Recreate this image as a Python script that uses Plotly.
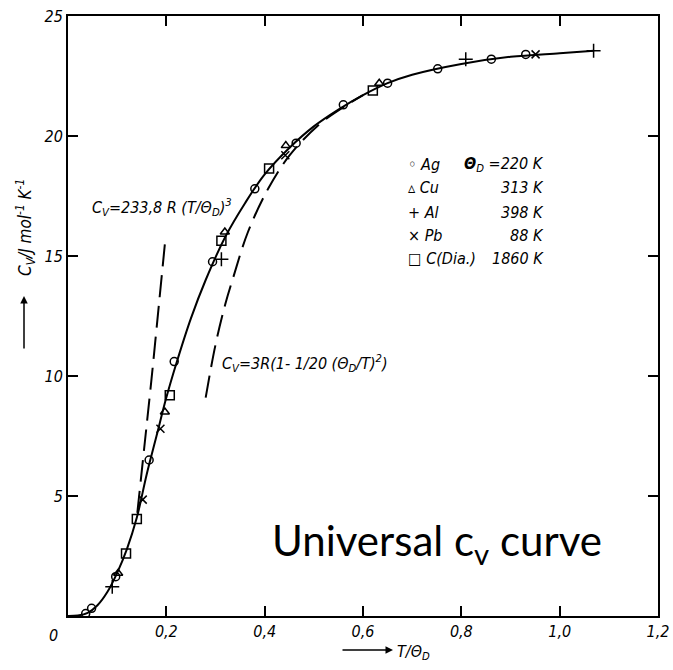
import plotly.graph_objects as go

# ---------------- data ----------------
curve_x = [0, 0.02, 0.04, 0.06, 0.08, 0.10, 0.12, 0.14, 0.16, 0.18, 0.20, 0.22, 0.25, 0.28,
           0.32, 0.36, 0.40, 0.45, 0.50, 0.55, 0.60, 0.65, 0.70, 0.80, 0.90, 1.00, 1.07]
curve_y = [0, 0.02, 0.13, 0.45, 1.0, 1.8, 2.8, 4.1, 5.9, 7.5, 9.1, 10.5, 12.4, 14.0,
           15.8, 17.2, 18.4, 19.5, 20.4, 21.1, 21.7, 22.2, 22.55, 23.0, 23.3, 23.45, 23.55]

t3_x = [0.141, 0.155, 0.170, 0.185, 0.198]
t3_y = [4.3, 7.0, 9.9, 13.0, 15.7]

ht_x = [0.280, 0.300, 0.320, 0.336, 0.366, 0.407, 0.451, 0.512, 0.560, 0.600]
ht_y = [9.1, 11.3, 13.0, 14.1, 16.0, 17.8, 19.2, 20.5, 21.2, 21.7]

ag_x = [0.036, 0.048, 0.097, 0.165, 0.216, 0.294, 0.380, 0.464, 0.560, 0.650, 0.752, 0.861, 0.931]
ag_y = [0.10, 0.32, 1.64, 6.5, 10.6, 14.76, 17.8, 19.7, 21.3, 22.2, 22.8, 23.2, 23.4]

cu_x = [0.102, 0.197, 0.319, 0.443, 0.633]
cu_y = [1.78, 8.5, 16.0, 19.6, 22.2]

al_x = [0.090, 0.312, 0.809, 1.069]
al_y = [1.22, 14.86, 23.2, 23.55]

pb_x = [0.152, 0.188, 0.442, 0.951]
pb_y = [4.85, 7.8, 19.2, 23.4]

c_x = [0.118, 0.140, 0.207, 0.312, 0.409, 0.620]
c_y = [2.6, 4.04, 9.2, 15.64, 18.65, 21.9]

x_ticks = [0.2, 0.4, 0.6, 0.8, 1.0, 1.2]
x_ticktext = ["0,2", "0,4", "0,6", "0,8", "1,0", "1,2"]
y_ticks = [5, 10, 15, 20, 25]
y_ticktext = ["5", "10", "15", "20", "25"]

legend_names = ["\u25e6 <i>Ag</i>", "\u25b5 <i>Cu</i>", "+ <i>Al</i>", "\u00d7 <i>Pb</i>", "\u25a1 <i>C(Dia.)</i>"]
legend_vals = ["<b>\u0398</b><sub>D</sub> =220 K", "313 K", "398 K", "88 K", "1860 K"]

# ---------------- figure ----------------
W, H = 673, 670
ML, MR, MT, MB = 68, 15, 16, 54
PW, PH = W - ML - MR, H - MT - MB


def px(x):
    return (x - ML) / PW


def py(y):
    return (H - MB - y) / PH


FONT = "DejaVu Sans Condensed, Liberation Sans, Arial, sans-serif"
fig = go.Figure()

fig.add_trace(go.Scatter(x=curve_x, y=curve_y, mode="lines", line=dict(color="black", width=2, shape="spline"),
                         showlegend=False))
fig.add_trace(go.Scatter(x=t3_x, y=t3_y, mode="lines", line=dict(color="black", width=2, dash="22px,9px",
                                                                  shape="spline"), showlegend=False))
fig.add_trace(go.Scatter(x=ht_x, y=ht_y, mode="lines", line=dict(color="black", width=2, dash="22px,9px",
                                                                  shape="spline"), showlegend=False))

marker_specs = [
    (ag_x, ag_y, "circle-open", 8),
    (cu_x, cu_y, "triangle-up-open", 8),
    (al_x, al_y, "cross-thin-open", 10),
    (pb_x, pb_y, "x-thin-open", 8),
    (c_x, c_y, "square-open", 9),
]
for xs, ys, sym, size in marker_specs:
    fig.add_trace(go.Scatter(x=xs, y=ys, mode="markers",
                             marker=dict(symbol=sym, size=size, color="black",
                                         line=dict(color="black", width=1.5)),
                             showlegend=False))

axis_common = dict(showline=True, linecolor="black", linewidth=2, mirror="ticks", ticks="inside",
                   ticklen=10, tickwidth=1.5, tickcolor="black", showgrid=False, zeroline=False,
                   tickfont=dict(family=FONT, size=16, color="black", style="italic"))

fig.update_xaxes(range=[0, 1.2], tickvals=x_ticks, ticktext=x_ticktext, **axis_common)
fig.update_yaxes(range=[0, 25], tickvals=y_ticks, ticktext=y_ticktext, **axis_common)

ann = []
ann_font = dict(family=FONT, size=16, color="black", style="italic")
# origin label
ann.append(dict(x=px(53), y=py(635), xref="paper", yref="paper", text="0", showarrow=False,
                xanchor="center", yanchor="middle", font=ann_font))
# legend rows
rows_y = [164, 188, 212, 235, 258]
for name, val, ry in zip(legend_names, legend_vals, rows_y):
    ann.append(dict(x=px(406), y=py(ry), xref="paper", yref="paper", text=name, showarrow=False,
                    xanchor="left", yanchor="middle", font=dict(family=FONT, size=16, color="black")))
    ann.append(dict(x=px(546), y=py(ry), xref="paper", yref="paper", text=val, showarrow=False,
                    xanchor="right", yanchor="middle", font=ann_font))
# formulas
ann.append(dict(x=px(90), y=py(208), xref="paper", yref="paper", xanchor="left", yanchor="middle",
                text="C<sub>V</sub>=233,8 R (T/\u0398<sub>D</sub>)<sup>3</sup>", showarrow=False,
                font=ann_font))
ann.append(dict(x=px(220), y=py(363), xref="paper", yref="paper", xanchor="left", yanchor="middle",
                text="C<sub>V</sub>=3R(1- 1/20 (\u0398<sub>D</sub>/T)<sup>2</sup>)", showarrow=False,
                font=ann_font))
# big label
ann.append(dict(x=px(270), y=py(543), xref="paper", yref="paper", xanchor="left", yanchor="middle",
                text="Universal c<sub>v</sub> curve", showarrow=False,
                font=dict(family="Lato", size=42, color="black")))
# x title
ann.append(dict(x=px(395), y=py(652), xref="paper", yref="paper", xanchor="left", yanchor="middle",
                text="T/\u0398<sub>D</sub>", showarrow=False, font=ann_font))
ann.append(dict(x=px(393), y=py(650), xref="paper", yref="paper", ax=-52, ay=0, text="",
                showarrow=True, arrowhead=2, arrowsize=1, arrowwidth=1.5, arrowcolor="black"))
# y title
ann.append(dict(x=px(25), y=py(228), xref="paper", yref="paper", textangle=-90,
                xanchor="center", yanchor="middle",
                text="C<sub>V</sub>/J mol<sup>-1</sup> K<sup>-1</sup>", showarrow=False,
                font=dict(family=FONT, size=17, color="black", style="italic")))
ann.append(dict(x=px(24), y=py(296), xref="paper", yref="paper", ax=0, ay=54, text="",
                showarrow=True, arrowhead=2, arrowsize=1, arrowwidth=1.5, arrowcolor="black"))

fig.update_layout(width=W, height=H, margin=dict(l=ML, r=MR, t=MT, b=MB, autoexpand=False),
                  paper_bgcolor="white", plot_bgcolor="white", annotations=ann, showlegend=False)

fig.write_html("out.html")
